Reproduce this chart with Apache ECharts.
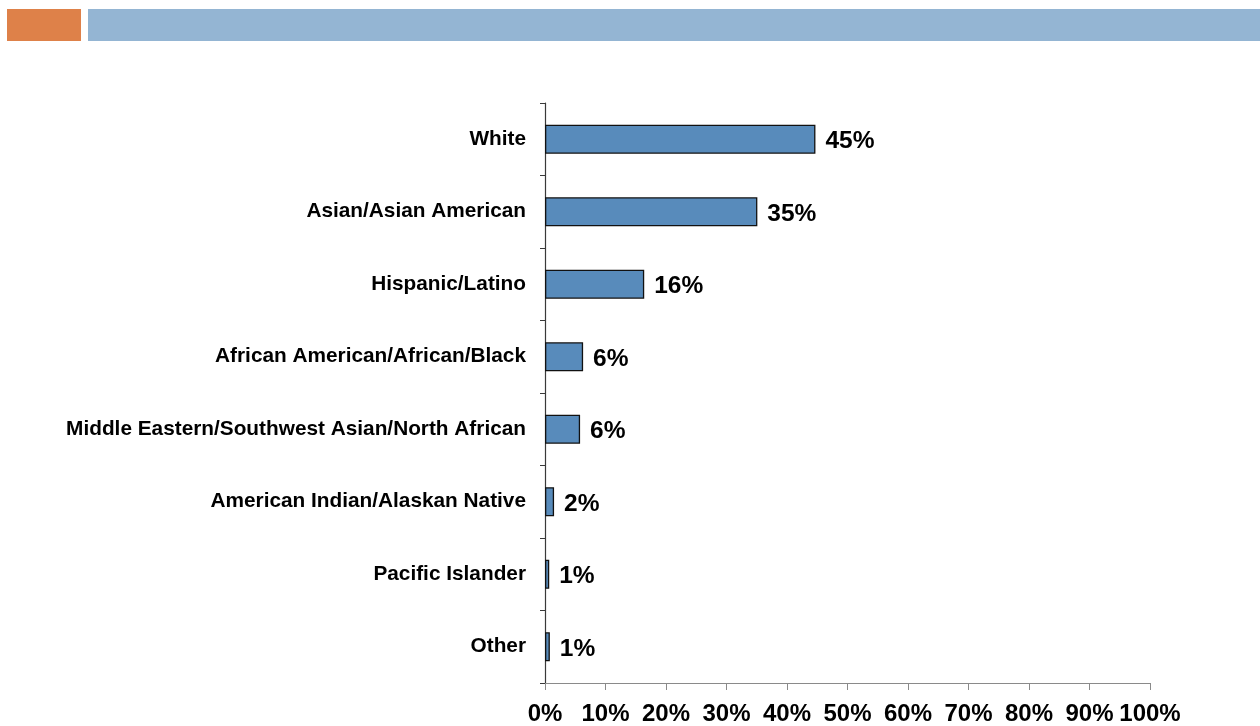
<!DOCTYPE html>
<html>
<head>
<meta charset="utf-8">
<script src="https://cdn.jsdelivr.net/npm/echarts@6/dist/echarts.min.js"></script>
<style>
  html, body { margin: 0; padding: 0; background: #ffffff; }
  #chart { width: 1260px; height: 726px; }
</style>
</head>
<body>
<div id="chart"></div>
<script>
// Share of respondents by race/ethnicity (percent)
const categories = [
  'White',
  'Asian/Asian American',
  'Hispanic/Latino',
  'African American/African/Black',
  'Middle Eastern/Southwest Asian/North African',
  'American Indian/Alaskan Native',
  'Pacific Islander',
  'Other'
];
const shares = [44.7, 35.1, 16.4, 6.3, 5.8, 1.5, 0.7, 0.8];
const tickLabels = ['0%', '10%', '20%', '30%', '40%', '50%', '60%', '70%', '80%', '90%', '100%'];

const FONT = 'Liberation Sans, Arial, sans-serif';
const chart = echarts.init(document.getElementById('chart'), null, { renderer: 'canvas' });

chart.setOption({
  animation: false,
  backgroundColor: '#ffffff',
  graphic: [
    // slide header strips
    { type: 'rect', left: 7, top: 9, shape: { width: 74, height: 32 }, style: { fill: '#DE8149' } },
    { type: 'rect', left: 88, top: 9, shape: { width: 1172, height: 32 }, style: { fill: '#94B5D3' } }
  ],
  grid: { left: 545, right: 110, top: 103, bottom: 42, containLabel: false },
  xAxis: {
    type: 'value',
    min: 0,
    max: 100,
    interval: 10,
    axisLine: { show: true, lineStyle: { color: '#8a8a8a', width: 1.2 } },
    axisTick: { show: true, length: 7, lineStyle: { color: '#8a8a8a', width: 1 } },
    splitLine: { show: false },
    axisLabel: {
      margin: 19,
      fontFamily: FONT,
      fontWeight: 'bold',
      fontSize: 24,
      color: '#000000',
      formatter: function (v) { return tickLabels[Math.round(v / 10)]; }
    }
  },
  yAxis: {
    type: 'category',
    data: categories,
    inverse: true,
    axisLine: { show: true, lineStyle: { color: '#3a3a3a', width: 1.2 } },
    axisTick: { show: true, length: 5, lineStyle: { color: '#3a3a3a', width: 1 } },
    axisLabel: {
      margin: 19,
      padding: [3, 0, 0, 0],
      fontFamily: FONT,
      fontWeight: 'bold',
      fontSize: 20.8,
      color: '#000000'
    }
  },
  series: [{
    type: 'bar',
    data: shares,
    barCategoryGap: '60%',
    itemStyle: { color: '#588BBB', borderColor: '#111111', borderWidth: 1.3 },
    label: {
      show: true,
      position: 'right',
      distance: 10,
      offset: [0, 2],
      fontFamily: FONT,
      fontWeight: 'bold',
      fontSize: 24.5,
      color: '#000000',
      formatter: function (p) { return Math.round(p.value) + '%'; }
    }
  }]
});
</script>
</body>
</html>
